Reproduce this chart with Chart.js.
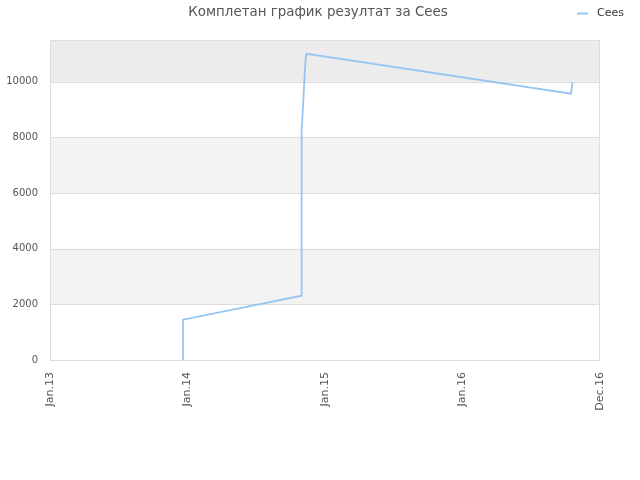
<!DOCTYPE html>
<html>
<head>
<meta charset="utf-8">
<script src="https://cdn.jsdelivr.net/npm/chart.js@4/dist/chart.umd.min.js"></script>
<style>
    body { margin: 0; background: #fff; }
    canvas { display: block; }
</style>
</head>
<body>
<canvas id="chartCanvas" width="640" height="480"></canvas>
<script>
// Values (x in years from Jan.13)
const seriesName = 'Cees';
const xValues = [0.967, 0.967, 1.830, 1.830, 1.838, 1.847, 1.855, 1.862, 1.869, 3.789, 3.800];
const yValues = [0, 1450, 2310, 8200, 8930, 9750, 10500, 10970, 11000, 9570, 9980];
const xTickLabels = ['Jan.13', 'Jan.14', 'Jan.15', 'Jan.16', 'Dec.16'];
const yTickValues = [0, 2000, 4000, 6000, 8000, 10000];
const chartTitle = 'Комплетан график резултат за Cees';

const lineColor = '#96c5f3';
const fontFamily = '"DejaVu Sans", sans-serif';

// Alternating background bands, plot border, title and legend
const decorPlugin = {
    id: 'decor',
    beforeDatasetsDraw(chart) {
        const { ctx, chartArea, scales } = chart;
        const y = scales.y;
        const edges = yTickValues.concat([y.max]);
        ctx.save();
        for (let i = 1; i < edges.length - 1; i += 2) {
            const top = y.getPixelForValue(edges[i + 1]);
            const bottom = y.getPixelForValue(edges[i]);
            ctx.fillStyle = i === edges.length - 2 ? '#ececec' : '#f3f3f3';
            ctx.fillRect(chartArea.left, top, chartArea.right - chartArea.left, bottom - top);
        }
        ctx.strokeStyle = '#dddddd';
        ctx.lineWidth = 1;
        yTickValues.forEach(v => {
            const py = Math.round(y.getPixelForValue(v)) + 0.5;
            ctx.beginPath();
            ctx.moveTo(chartArea.left, py);
            ctx.lineTo(chartArea.right, py);
            ctx.stroke();
        });
        ctx.strokeRect(chartArea.left + 0.5, chartArea.top + 0.5,
            chartArea.right - chartArea.left - 1, chartArea.bottom - chartArea.top);
        ctx.restore();
    },
    afterDraw(chart) {
        const ctx = chart.ctx;
        ctx.save();
        // title
        ctx.fillStyle = '#555';
        ctx.font = '13.4px ' + fontFamily;
        ctx.textAlign = 'center';
        ctx.textBaseline = 'middle';
        ctx.fillText(chartTitle, 318, 12.5);
        // legend, top right, on the title row
        ctx.strokeStyle = lineColor;
        ctx.lineWidth = 2;
        ctx.beginPath();
        ctx.moveTo(577, 13.5);
        ctx.lineTo(588, 13.5);
        ctx.stroke();
        ctx.fillStyle = '#333';
        ctx.font = '11px ' + fontFamily;
        ctx.textAlign = 'left';
        ctx.fillText(seriesName, 597, 13);
        ctx.restore();
    }
};

const points = xValues.map((x, i) => ({ x: x, y: yValues[i] }));

new Chart(document.getElementById('chartCanvas').getContext('2d'), {
    type: 'line',
    data: {
        datasets: [{
            label: seriesName,
            data: points,
            borderColor: lineColor,
            backgroundColor: lineColor,
            borderWidth: 1.8,
            pointRadius: 0,
            tension: 0,
            fill: false
        }]
    },
    options: {
        responsive: false,
        devicePixelRatio: 1,
        animation: false,
        layout: { padding: { top: 40, right: 40, bottom: 0, left: 0 } },
        plugins: {
            legend: { display: false },
            tooltip: { enabled: false },
            title: { display: false }
        },
        scales: {
            x: {
                type: 'linear',
                min: 0,
                max: 4,
                grid: { display: false, drawTicks: false },
                border: { display: false },
                afterFit: scale => { scale.height = 120; },
                ticks: {
                    stepSize: 1,
                    minRotation: 90,
                    maxRotation: 90,
                    padding: 12,
                    color: '#555',
                    font: { family: fontFamily, size: 11 },
                    callback: value => xTickLabels[value] || ''
                }
            },
            y: {
                min: 0,
                max: 11500,
                grid: { display: false, drawTicks: false },
                border: { display: false },
                afterFit: scale => { scale.width = 50; },
                afterBuildTicks: scale => {
                    scale.ticks = yTickValues.map(v => ({ value: v }));
                },
                ticks: {
                    padding: 12,
                    color: '#555',
                    font: { family: fontFamily, size: 10 },
                    callback: value => String(value)
                }
            }
        }
    },
    plugins: [decorPlugin]
});
</script>
</body>
</html>
